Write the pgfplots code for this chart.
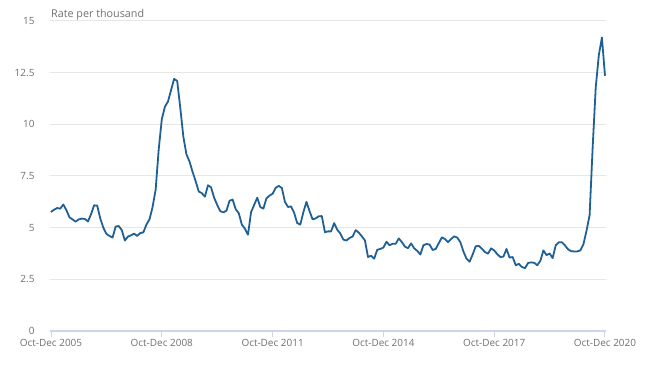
\documentclass[border=0pt]{standalone}
\usepackage{fontspec}
\setmainfont{Open Sans}
\usepackage{pgfplots}
\pgfplotsset{compat=1.18}
\definecolor{linecol}{HTML}{206095}
\definecolor{gridcol}{HTML}{E6E6E6}
\definecolor{axcol}{HTML}{CCD6E8}
\definecolor{txtcol}{HTML}{707070}
\begin{document}
\begin{tikzpicture}
\begin{axis}[
  at={(0,0)}, anchor=south west,
  scale only axis, width=556bp, height=310bp,
  xmin=-0.33, xmax=180.33, ymin=0, ymax=15,
  axis lines*=left,
  y axis line style={draw=none},
  x axis line style={draw=axcol, line width=1.2bp},
  ytick={0,2.5,5,7.5,10,12.5,15},
  ytick style={draw=none},
  ymajorgrids, grid style={draw=gridcol, line width=1bp},
  xtick={0,36,72,108,144,180},
  xticklabels={Oct-Dec 2005,Oct-Dec 2008,Oct-Dec 2011,Oct-Dec 2014,Oct-Dec 2017,Oct-Dec 2020},
  xtick style={draw=axcol, line width=1bp},
  tick align=outside, major tick length=6bp,
  /pgf/number format/assume math mode=true,
  tick label style={font=\fontsize{10}{12}\selectfont, text=txtcol},
  yticklabel style={xshift=-6bp},
  xticklabel style={yshift=1bp},
  clip=false,
]
\addplot[linecol, line width=1.8bp, line join=round, mark=none] coordinates {
(0,5.76)(1,5.87)(2,5.95)(3,5.92)(4,6.12)(5,5.85)(6,5.5)(7,5.4)(8,5.29)(9,5.4)
(10,5.44)(11,5.42)(12,5.3)(13,5.65)(14,6.08)(15,6.07)(16,5.45)(17,5.0)(18,4.7)(19,4.6)
(20,4.52)(21,5.05)(22,5.08)(23,4.88)(24,4.38)(25,4.57)(26,4.63)(27,4.71)(28,4.6)(29,4.74)
(30,4.77)(31,5.15)(32,5.4)(33,6.0)(34,6.84)(35,8.8)(36,10.25)(37,10.85)(38,11.1)(39,11.65)
(40,12.2)(41,12.1)(42,10.8)(43,9.4)(44,8.55)(45,8.2)(46,7.7)(47,7.25)(48,6.75)(49,6.67)
(50,6.5)(51,7.05)(52,6.95)(53,6.45)(54,6.1)(55,5.8)(56,5.74)(57,5.82)(58,6.3)(59,6.36)
(60,5.9)(61,5.7)(62,5.15)(63,4.95)(64,4.66)(65,5.75)(66,6.1)(67,6.45)(68,6.0)(69,5.92)
(70,6.42)(71,6.55)(72,6.64)(73,6.93)(74,7.02)(75,6.92)(76,6.25)(77,6.0)(78,6.03)(79,5.72)
(80,5.22)(81,5.15)(82,5.75)(83,6.25)(84,5.8)(85,5.4)(86,5.45)(87,5.55)(88,5.56)(89,4.78)
(90,4.82)(91,4.82)(92,5.22)(93,4.9)(94,4.72)(95,4.42)(96,4.38)(97,4.5)(98,4.57)(99,4.88)
(100,4.76)(101,4.58)(102,4.38)(103,3.58)(104,3.64)(105,3.5)(106,3.93)(107,3.97)(108,4.04)(109,4.32)
(110,4.15)(111,4.22)(112,4.22)(113,4.48)(114,4.3)(115,4.08)(116,4.01)(117,4.24)(118,4.0)(119,3.88)
(120,3.7)(121,4.15)(122,4.21)(123,4.18)(124,3.92)(125,3.97)(126,4.25)(127,4.53)(128,4.45)(129,4.3)
(130,4.45)(131,4.58)(132,4.52)(133,4.3)(134,3.85)(135,3.5)(136,3.35)(137,3.7)(138,4.1)(139,4.12)
(140,3.98)(141,3.82)(142,3.74)(143,4.0)(144,3.9)(145,3.72)(146,3.58)(147,3.6)(148,3.97)(149,3.55)
(150,3.58)(151,3.18)(152,3.25)(153,3.1)(154,3.04)(155,3.29)(156,3.32)(157,3.3)(158,3.18)(159,3.4)
(160,3.9)(161,3.67)(162,3.75)(163,3.53)(164,4.15)(165,4.29)(166,4.29)(167,4.14)(168,3.95)(169,3.86)
(170,3.85)(171,3.85)(172,3.9)(173,4.2)(174,4.85)(175,5.6)(176,8.9)(177,11.8)(178,13.35)(179,14.2)
(180,12.35)
};
\node[anchor=base west, text=txtcol, font=\fontsize{10.8}{13}\selectfont, inner sep=0pt]
  at (rel axis cs:0,1) [xshift=1bp, yshift=3.5bp] {Rate per thousand};
\end{axis}
\pgfresetboundingbox
\useasboundingbox (-50bp,-35bp) rectangle (609bp,331bp);
\end{tikzpicture}
\end{document}
